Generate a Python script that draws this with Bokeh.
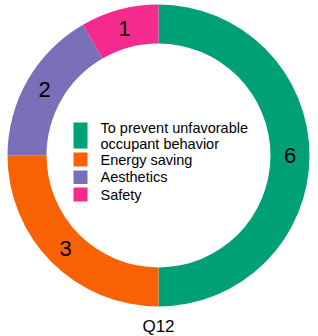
import numpy as np
from bokeh.plotting import figure
from bokeh.models import Range1d, ColumnDataSource, GlobalInlineStyleSheet
from bokeh.core.properties import value
from bokeh.embed import file_html
from bokeh.resources import INLINE

# ---- data ----
categories = ["To prevent unfavorable\noccupant behavior", "Energy saving", "Aesthetics", "Safety"]
counts = [6, 3, 2, 1]
colors = ["#00A077", "#F86205", "#7A6FB8", "#F52A8E"]
title_text = "Q12"

# ---- layout constants ----
R_OUT, R_IN = 151, 112
FONT = "Liberation Sans"

total = float(sum(counts))
cum = np.concatenate([[0], np.cumsum(counts)])
start = np.pi / 2 - 2 * np.pi * cum[:-1] / total
end = np.pi / 2 - 2 * np.pi * cum[1:] / total
mid = (start + end) / 2
r_mid = (R_OUT + R_IN) / 2

src = ColumnDataSource(dict(start=start, end=end, color=colors,
                            lx=r_mid * np.cos(mid), ly=r_mid * np.sin(mid),
                            lab=[str(c) for c in counts]))

p = figure(width=318, height=336, output_backend="svg", toolbar_location=None,
           x_range=Range1d(-158, 160), y_range=Range1d(-181, 155),
           min_border=0, outline_line_color=None,
           stylesheets=[GlobalInlineStyleSheet(css="html, body { margin: 0 !important; padding: 0; overflow: hidden; }")])
p.axis.visible = False
p.grid.visible = False
p.background_fill_color = "white"

p.annular_wedge(x=0, y=0, inner_radius=R_IN, outer_radius=R_OUT,
                start_angle="end", end_angle="start", color="color",
                line_color=None, source=src)

p.text(x="lx", y="ly", text="lab", source=src, text_align="center",
       text_baseline="middle", text_font=value(FONT), text_font_size="22px",
       text_color="black")

# legend (manual)
sq_top = [33, 3, -15, -32]
sq_h = [26, 14, 13.5, 14]
sq_cy = [t - h / 2 for t, h in zip(sq_top, sq_h)]
leg = ColumnDataSource(dict(x=[-78] * 4, y=sq_cy, h=sq_h, color=colors,
                            tx=[-58] * 4, label=categories))
p.rect(x="x", y="y", width=14, height="h", color="color", line_color=None, source=leg)
p.text(x="tx", y="y", text="label", source=leg, text_align="left",
       text_baseline="middle", text_font=value(FONT), text_font_size="14.5px",
       text_color="black", text_line_height=1.0)

p.text(x=[0], y=[-171], text=[title_text], text_align="center",
       text_baseline="middle", text_font=value(FONT), text_font_size="17px",
       text_color="black")

open("out.html", "w").write(file_html(p, INLINE))
